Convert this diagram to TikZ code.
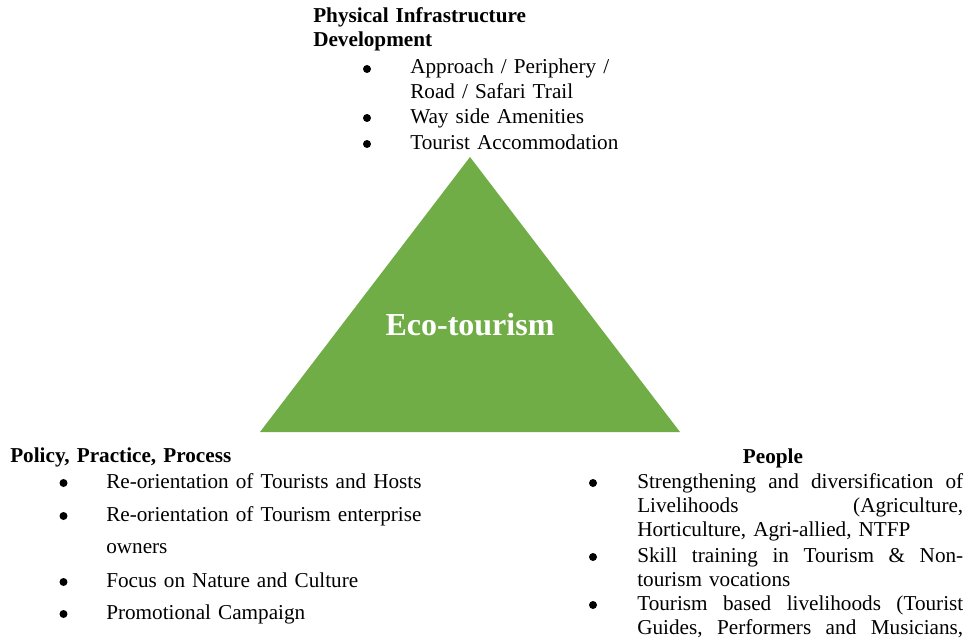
\documentclass[tikz,border=0pt]{standalone}
\usepackage{fontspec}
\setmainfont{Liberation Serif}
\usepackage{xcolor}
\usepackage{tikz}
\definecolor{ecogreen}{HTML}{70AD47}
\tikzset{
  txt/.style={font=\fontsize{15.9}{18.5}\selectfont, inner sep=0pt, anchor=base west,
    align=left, text width=250pt},
  hd/.style={txt, font=\fontsize{15.9}{18}\selectfont\bfseries},
  pol/.style={txt, font=\fontsize{15.9}{24}\selectfont},
  ppl/.style={txt, font=\fontsize{15.9}{18.2}\selectfont, text width=244.5pt},
  dot/.style={circle, fill, inner sep=0pt, minimum size=6pt},
}

\begin{document}
\begin{tikzpicture}[x=0.75pt,y=-0.75pt]
  \useasboundingbox (0,0) rectangle (968,642);
  \clip (0,0) rectangle (968,642);

  \fill[ecogreen] (470,157) coordinate (apex) -- (680,432) coordinate (right)
     -- (260,432) coordinate (left) -- cycle;
  \draw (470,335) node[inner sep=0pt, anchor=base, font=\fontsize{24}{28}\selectfont\bfseries, text=white] (eco) {Eco-tourism};

  % top corner
  \draw (313,23) node[hd] (infra) {Physical Infrastructure\\Development};
  \draw (367,69) node[dot] (b-road) {};
  \draw (410,74) node[txt] (road) {Approach / Periphery /\\Road / Safari Trail};
  \draw (367,118) node[dot] (b-way) {};
  \draw (410,123) node[txt] (way) {Way side Amenities};
  \draw (367,144) node[dot] (b-stay) {};
  \draw (410,149) node[txt] (stay) {Tourist Accommodation};

  % left corner
  \draw (10,462) node[hd] (policy) {Policy, Practice, Process};
  \draw (63.5,483) node[dot] (b-hosts) {};
  \draw (106,488) node[pol] (hosts) {Re-orientation of Tourists and Hosts};
  \draw (63.5,516) node[dot] (b-owners) {};
  \draw (106,521) node[pol] (owners) {Re-orientation of Tourism enterprise\\owners};
  \draw (63.5,582) node[dot] (b-nature) {};
  \draw (106,587) node[pol] (nature) {Focus on Nature and Culture};
  \draw (63.5,614) node[dot] (b-promo) {};
  \draw (106,619) node[pol] (promo) {Promotional Campaign};

  % right corner
  \draw (773,463) node[inner sep=0pt, anchor=base, font=\fontsize{15.9}{18}\selectfont\bfseries] (people) {People};
  \draw (593,483) node[dot] (b-liveli) {};
  \draw (637,488) node[ppl] (liveli) {Strengthening\hfill and\hfill diversification\hfill of\\
    Livelihoods\hfill (Agriculture,\\Horticulture, Agri-allied, NTFP};
  \draw (593,557) node[dot] (b-skill) {};
  \draw (637,562) node[ppl] (skill) {Skill\hfill training\hfill in\hfill Tourism\hfill \&\hfill Non-\\tourism vocations};
  \draw (593,605) node[dot] (b-guides) {};
  \draw (637,610) node[ppl] (guides) {Tourism\hfill based\hfill livelihoods\hfill (Tourist\\
    Guides,\hfill Performers\hfill and\hfill Musicians,};
\end{tikzpicture}
\end{document}
